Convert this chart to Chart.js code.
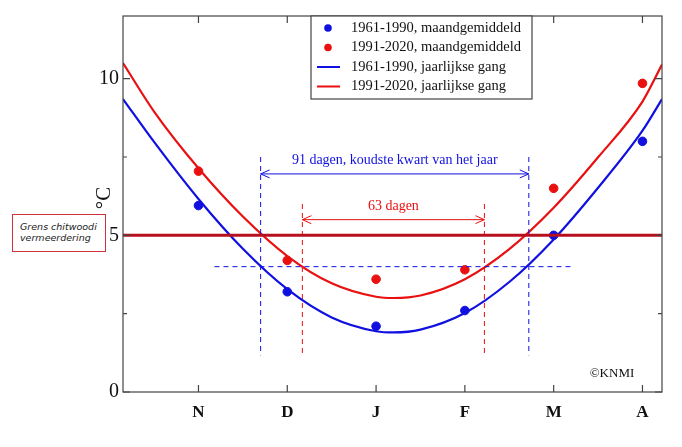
<!DOCTYPE html>
<html>
<head>
<meta charset="utf-8">
<script src="https://cdn.jsdelivr.net/npm/chart.js@4"></script>
<style>
  body { margin: 0; background: #fff; }
  #wrap { position: relative; width: 682px; height: 447px; }
  #note { position: absolute; left: 12px; top: 214px; width: 94px; height: 38px; border: 1.5px solid #d0303c; background: #fff;
    font: italic 9.5px "DejaVu Sans", sans-serif; color: #222; padding: 6px 0 0 7px; box-sizing: border-box; line-height: 11px; }
</style>
</head>
<body>
<div id="wrap">
  <canvas id="c" width="682" height="447"></canvas>
  <div id="note">Grens chitwoodi<br>vermeerdering</div>
</div>
<script>
// months: N=0 ... A=5
const monthLabels = ['N', 'D', 'J', 'F', 'M', 'A'];
const monthPos = [0, 1, 2, 3, 4, 5];
const mean6190 = [5.95, 3.2, 2.1, 2.6, 5.0, 8.0];
const mean9120 = [7.05, 4.2, 3.6, 3.9, 6.5, 9.85];

// annual curves
const curveX = [-0.85, -0.5, 0, 0.5, 1, 1.5, 2, 2.2, 2.5, 3, 3.5, 4, 4.5, 5, 5.22];
const curve6190 = [9.35, 7.98, 6.16, 4.57, 3.28, 2.38, 1.94, 1.9, 1.99, 2.52, 3.51, 4.87, 6.52, 8.34, 9.35];
const curve9120 = [10.5, 8.95, 7.14, 5.6, 4.34, 3.47, 3.04, 3.0, 3.08, 3.6, 4.56, 5.88, 7.49, 9.27, 10.45];

const threshold = 5;
const blueSpan = [0.70, 3.72];   // 91 dagen
const redSpan = [1.17, 3.22];    // 63 dagen
const level4 = 4;

const BLUE = '#1010e0', RED = '#e81010', DARKRED = '#b80f1e';
const serif = '"Liberation Serif", "Times New Roman", serif';

const pts = (xs, ys) => xs.map((x, i) => ({ x, y: ys[i] }));

const overlay = {
  id: 'overlay',
  afterDraw(chart) {
    const { ctx, chartArea: a, scales: { x, y } } = chart;
    ctx.save();
    // inward ticks
    ctx.strokeStyle = '#444'; ctx.lineWidth = 1.2;
    monthPos.forEach(m => {
      const px = x.getPixelForValue(m);
      ctx.beginPath(); ctx.moveTo(px, a.bottom); ctx.lineTo(px, a.bottom - 7);
      ctx.moveTo(px, a.top); ctx.lineTo(px, a.top + 7); ctx.stroke();
    });
    [0, 2.5, 5, 7.5, 10].forEach(v => {
      const py = y.getPixelForValue(v), len = v % 5 === 0 ? 7 : 4;
      ctx.beginPath(); ctx.moveTo(a.left, py); ctx.lineTo(a.left + len, py);
      ctx.moveTo(a.right, py); ctx.lineTo(a.right - len, py); ctx.stroke();
    });
    ctx.strokeRect(a.left, a.top, a.right - a.left, a.bottom - a.top);

    // arrows
    const arrow = (x0, x1, yv, col, text) => {
      const p0 = x.getPixelForValue(x0), p1 = x.getPixelForValue(x1), py = y.getPixelForValue(yv);
      ctx.strokeStyle = col; ctx.lineWidth = 1; ctx.setLineDash([]);
      ctx.beginPath(); ctx.moveTo(p0, py); ctx.lineTo(p1, py);
      ctx.moveTo(p0 + 9, py - 4); ctx.lineTo(p0, py); ctx.lineTo(p0 + 9, py + 4);
      ctx.moveTo(p1 - 9, py - 4); ctx.lineTo(p1, py); ctx.lineTo(p1 - 9, py + 4);
      ctx.stroke();
      ctx.fillStyle = col; ctx.font = '14px ' + serif; ctx.textAlign = 'center';
      ctx.fillText(text, (p0 + p1) / 2, py - 10);
    };
    arrow(blueSpan[0], blueSpan[1], 6.96, BLUE, '91 dagen, koudste kwart van het jaar');
    arrow(redSpan[0], redSpan[1], 5.5, RED, '63 dagen');

    // legend
    const lx = 311, ly = a.top;
    ctx.fillStyle = '#fff'; ctx.fillRect(lx, ly, 221, 83);
    ctx.strokeStyle = '#444'; ctx.lineWidth = 1.2; ctx.strokeRect(lx, ly, 221, 83);
    const items = [[BLUE, 'dot', '1961-1990, maandgemiddeld'], [RED, 'dot', '1991-2020, maandgemiddeld'],
      [BLUE, 'line', '1961-1990, jaarlijkse gang'], [RED, 'line', '1991-2020, jaarlijkse gang']];
    ctx.font = '14.5px ' + serif; ctx.textAlign = 'left'; ctx.textBaseline = 'middle';
    items.forEach((it, i) => {
      const yy = ly + 12 + i * 19.5;
      ctx.fillStyle = it[0]; ctx.strokeStyle = it[0]; ctx.lineWidth = 2;
      if (it[1] === 'dot') { ctx.beginPath(); ctx.arc(lx + 17, yy, 3.8, 0, Math.PI * 2); ctx.fill(); }
      else { ctx.beginPath(); ctx.moveTo(lx + 6, yy); ctx.lineTo(lx + 29, yy); ctx.stroke(); }
      ctx.fillStyle = '#111'; ctx.fillText(it[2], lx + 40, yy);
    });

    ctx.fillStyle = '#111'; ctx.font = '13px ' + serif; ctx.textAlign = 'center';
    ctx.fillText('©KNMI', 612, 374);

    // y title
    ctx.translate(104, 198); ctx.rotate(-Math.PI / 2);
    ctx.font = '21px ' + serif; ctx.fillText('°C', 0, 0);
    ctx.restore();
  }
};

const dashed = (data, col) => ({ data, borderColor: col, borderWidth: 1, borderDash: [5, 4], pointRadius: 0, showLine: true, fill: false });

new Chart(document.getElementById('c'), {
  type: 'scatter',
  data: {
    datasets: [
      { data: [{ x: -0.85, y: threshold }, { x: 5.22, y: threshold }], borderColor: DARKRED, borderWidth: 3, pointRadius: 0, showLine: true },
      dashed([{ x: 0.18, y: level4 }, { x: 4.22, y: level4 }], BLUE),
      dashed([{ x: blueSpan[0], y: 7.5 }, { x: blueSpan[0], y: 1.17 }], BLUE),
      dashed([{ x: blueSpan[1], y: 7.5 }, { x: blueSpan[1], y: 1.17 }], BLUE),
      dashed([{ x: redSpan[0], y: 6.0 }, { x: redSpan[0], y: 1.17 }], RED),
      dashed([{ x: redSpan[1], y: 6.0 }, { x: redSpan[1], y: 1.17 }], RED),
      { label: '1961-1990, jaarlijkse gang', data: pts(curveX, curve6190), borderColor: BLUE, borderWidth: 2.2, pointRadius: 0, showLine: true, tension: 0.4, cubicInterpolationMode: 'monotone' },
      { label: '1991-2020, jaarlijkse gang', data: pts(curveX, curve9120), borderColor: RED, borderWidth: 2.2, pointRadius: 0, showLine: true, tension: 0.4, cubicInterpolationMode: 'monotone' },
      { label: '1961-1990, maandgemiddeld', data: pts(monthPos, mean6190), backgroundColor: BLUE, borderColor: BLUE, pointRadius: 4.3 },
      { label: '1991-2020, maandgemiddeld', data: pts(monthPos, mean9120), backgroundColor: RED, borderColor: RED, pointRadius: 4.3 }
    ]
  },
  options: {
    responsive: false, animation: false,
    layout: { padding: { top: 14, right: 20, left: 0, bottom: 0 } },
    plugins: { legend: { display: false }, tooltip: { enabled: false } },
    scales: {
      x: {
        type: 'linear', min: -0.85, max: 5.22,
        afterBuildTicks: s => { s.ticks = monthPos.map(v => ({ value: v })); },
        afterFit: s => { s.height = 55; },
        grid: { display: false, drawTicks: false }, border: { display: false },
        ticks: { callback: v => monthLabels[v], color: '#111', font: { family: serif, size: 17, weight: 'bold' }, padding: 10, maxRotation: 0 }
      },
      y: {
        min: 0, max: 12,
        afterBuildTicks: s => { s.ticks = [0, 5, 10].map(v => ({ value: v })); },
        afterFit: s => { s.width = 123; },
        grid: { display: false, drawTicks: false }, border: { display: false },
        ticks: { color: '#111', font: { family: serif, size: 20 }, padding: 4 }
      }
    }
  },
  plugins: [overlay]
});
</script>
</body>
</html>
